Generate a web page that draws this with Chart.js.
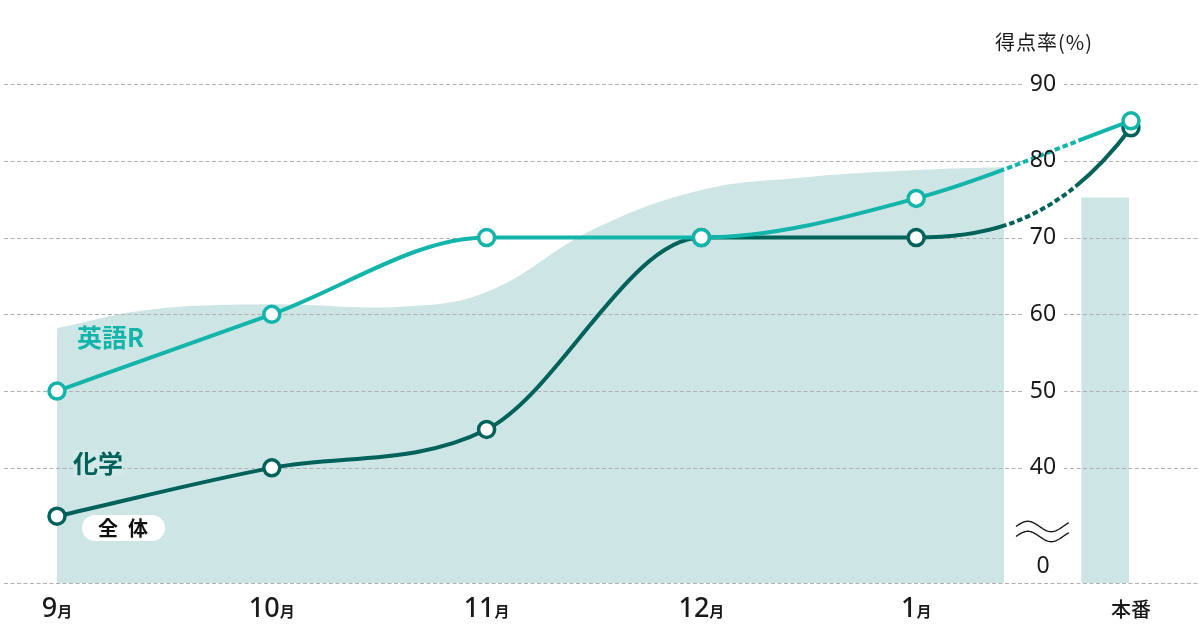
<!DOCTYPE html>
<html lang="ja">
<head>
<meta charset="utf-8">
<script src="https://cdn.jsdelivr.net/npm/chart.js@4.4.0/dist/chart.umd.min.js"></script>
<style>
  html, body { margin: 0; padding: 0; background: #fff; }
  #wrap { width: 1199px; height: 644px; position: relative; }
</style>
</head>
<body>
<div id="wrap"><canvas id="myChart"></canvas></div>
<script>
let months = ["9", "10", "11", "12", "1", "本番"]
let monthX = [0, 1, 2, 3, 4, 5]
let english = [50, 60, 70, 70, 75.1, 85.2]
let chemistry = [33.7, 40, 45, 70, 70, 84.3]

let overallX = [0, 0.43, 1, 1.6, 2, 2.5, 3, 3.46, 4, 4.41]
let overall = [58.2, 60.6, 61.3, 61, 62.9, 71.1, 76.2, 77.8, 78.8, 79.2]
let finalX = [4.768, 4.991]
let finalOverall = [75.2, 75.2]

let yTicks = [40, 50, 60, 70, 80, 90]
let axisBase = 25      // shown as "0" on the broken axis
let zeroLabelAt = 27.1
let dottedEnglish = [4.41, 4.77]
let dottedChem = [4.42, 4.74]
let chemEndSteep = 2.6

const TEAL = "#13b4aa"
const DARK = "#00625a"
const FILL = "#cde6e5"

function toPoints(xs, ys) {
  return xs.map((x, i) => ({ x: x, y: ys[i] }))
}

// solid - dotted - solid along the last bezier segment
function lastDash(ctx, span) {
  if (ctx.p1DataIndex !== 5) return undefined
  let xs = ctx.chart.scales.x
  let xa = xs.getPixelForValue(span[0])
  let xb = xs.getPixelForValue(span[1])
  let p0 = ctx.p0, p1 = ctx.p1
  let c1x = p0.cp2x ?? p0.x, c1y = p0.cp2y ?? p0.y
  let c2x = p1.cp1x ?? p1.x, c2y = p1.cp1y ?? p1.y
  let len = 0, la = null, lb = null, px = p0.x, py = p0.y
  for (let i = 1; i <= 400; i++) {
    let t = i / 400, u = 1 - t
    let x = u * u * u * p0.x + 3 * u * u * t * c1x + 3 * u * t * t * c2x + t * t * t * p1.x
    let y = u * u * u * p0.y + 3 * u * u * t * c1y + 3 * u * t * t * c2y + t * t * t * p1.y
    len += Math.hypot(x - px, y - py)
    if (la === null && x >= xa) la = len
    if (lb === null && x >= xb) lb = len
    px = x
    py = y
  }
  if (la === null || lb === null) return undefined
  let dot = 5.5, gap = 3
  let dash = [la]
  let n = Math.floor((lb - la - gap) / (dot + gap))
  for (let k = 0; k < n; k++) dash.push(gap, dot)
  dash.push(gap, 2000, 0)
  return dash
}

function wave(c, x0, yc) {
  c.beginPath()
  for (let i = 0; i <= 60; i++) {
    let px = x0 + i * 53 / 60
    let py = yc - 5.2 * Math.sin(2 * Math.PI * (px - x0) / 47)
    if (i === 0) c.moveTo(px, py)
    else c.lineTo(px, py)
  }
  c.stroke()
}

let decor = {
  id: "decor",
  beforeDatasetDraw(chart, args) {
    if (args.index !== 1) return
    // the final climb of 化学 starts flatter and ends steeper
    let line = args.meta.dataset
    line.updateControlPoints(chart.chartArea, "x")
    let pts = args.meta.data
    let a0 = pts[pts.length - 2], a1 = pts[pts.length - 1]
    a1.cp1y = a1.y + (a0.y - a1.y) * chemEndSteep / 3
    if (a1.cp1y > a0.y) a1.cp1y = a0.y

    let c = chart.ctx
    let y = chart.scales.y
    let a = chart.chartArea
    c.save()
    c.strokeStyle = "#b0b0b0"
    c.lineWidth = 1
    c.setLineDash([4, 2.5])
    let lines = [axisBase].concat(yTicks)
    lines.forEach((v) => {
      let py = Math.round(y.getPixelForValue(v)) + 0.5
      c.beginPath()
      c.moveTo(a.left + 4, py)
      c.lineTo(a.right, py)
      c.stroke()
    })
    c.fillStyle = "#fff"
    yTicks.forEach((v) => {
      let py = y.getPixelForValue(v)
      c.fillRect(1024, py - 3, 40, 6)
    })
    c.restore()
  },
  afterDatasetsDraw(chart) {
    let c = chart.ctx
    let x = chart.scales.x
    let y = chart.scales.y
    c.save()
    c.fillStyle = "#1a1a1a"
    c.textAlign = "center"
    c.textBaseline = "middle"
    c.font = "23px 'Noto Sans', sans-serif"
    yTicks.forEach((v) => {
      c.fillText(String(v), 1043, y.getPixelForValue(v))
    })
    c.fillText("0", 1043, y.getPixelForValue(zeroLabelAt))

    c.font = "20px 'Noto Sans CJK JP', sans-serif"
    c.letterSpacing = "1px"
    c.fillText("得点率(%)", 1044, 42)
    c.letterSpacing = "0px"

    c.strokeStyle = "#1a1a1a"
    c.lineWidth = 1.4
    wave(c, 1016, 526.5)
    wave(c, 1016, 536.5)

    // month labels
    c.textAlign = "left"
    c.textBaseline = "alphabetic"
    months.forEach((m, i) => {
      let cx = x.getPixelForValue(monthX[i])
      if (m === "本番") {
        c.font = "500 20px 'Noto Sans CJK JP', sans-serif"
        c.textAlign = "center"
        c.fillText(m, cx, 617)
        c.textAlign = "left"
        return
      }
      c.font = "500 27px 'Noto Sans', sans-serif"
      let w1 = c.measureText(m).width
      c.font = "600 15px 'Noto Sans CJK JP', sans-serif"
      let w2 = c.measureText("月").width
      let sx = cx - (w1 + w2) / 2
      c.font = "500 27px 'Noto Sans', sans-serif"
      c.fillText(m, sx, 617)
      c.font = "600 15px 'Noto Sans CJK JP', sans-serif"
      c.fillText("月", sx + w1, 617)
    })

    // series labels
    c.textBaseline = "middle"
    c.font = "bold 25px 'Noto Sans CJK JP', sans-serif"
    c.fillStyle = TEAL
    c.fillText("英語R", 77, 337)

    c.fillStyle = "#d3e9e8"
    c.fillRect(73, 450, 50, 26)
    c.fillStyle = DARK
    c.fillText("化学", 73, 463)

    c.fillStyle = "#fff"
    c.beginPath()
    c.roundRect(82, 515, 83, 26, 13)
    c.fill()
    c.fillStyle = "#111"
    c.font = "bold 20px 'Noto Sans CJK JP', sans-serif"
    c.textAlign = "center"
    c.fillText("全\u2002体", 123, 528)
    c.restore()
  }
}

let ctx = document.getElementById("myChart")
let myChart = new Chart(ctx, {
  type: "line",
  data: {
    datasets: [
      {
        label: "英語R",
        data: toPoints(monthX, english),
        borderColor: TEAL,
        borderWidth: 4,
        cubicInterpolationMode: "monotone",
        pointRadius: 8,
        pointBorderWidth: 3.5,
        pointBackgroundColor: "#fff",
        pointBorderColor: TEAL,
        segment: { borderDash: (c) => lastDash(c, dottedEnglish) }
      },
      {
        label: "化学",
        data: toPoints(monthX, chemistry),
        borderColor: DARK,
        borderWidth: 4,
        cubicInterpolationMode: "monotone",
        pointRadius: 8,
        pointBorderWidth: 3.5,
        pointBackgroundColor: "#fff",
        pointBorderColor: DARK,
        segment: { borderDash: (c) => lastDash(c, dottedChem) }
      },
      {
        label: "全体 本番",
        data: toPoints(finalX, finalOverall),
        borderWidth: 0,
        pointRadius: 0,
        tension: 0,
        fill: "start",
        backgroundColor: FILL
      },
      {
        label: "全体",
        data: toPoints(overallX, overall),
        borderWidth: 0,
        pointRadius: 0,
        tension: 0.4,
        fill: "start",
        backgroundColor: FILL
      }
    ]
  },
  options: {
    responsive: true,
    maintainAspectRatio: false,
    animation: false,
    events: [],
    layout: { autoPadding: false, padding: { top: 84, bottom: 61, left: 0, right: 0 } },
    plugins: {
      legend: { display: false },
      tooltip: { enabled: false }
    },
    scales: {
      x: { type: "linear", bounds: "data", min: -0.2654, max: 5.3166, display: false },
      y: { min: axisBase, max: 90, display: false }
    }
  },
  plugins: [decor]
})
</script>
</body>
</html>
